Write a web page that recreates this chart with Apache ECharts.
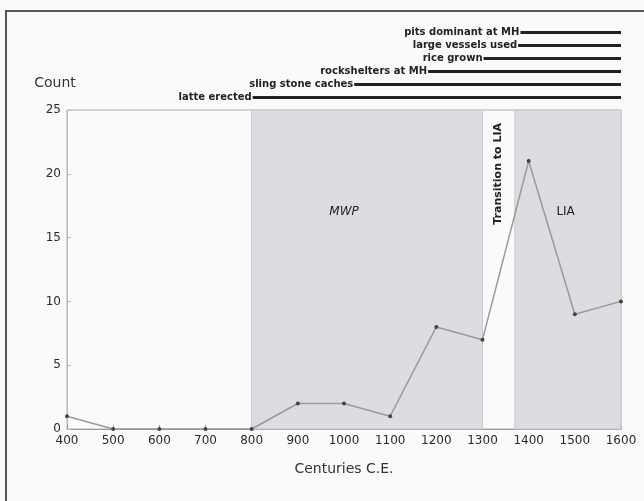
<!DOCTYPE html>
<html><head><meta charset="utf-8">
<script src="https://cdn.jsdelivr.net/npm/echarts@6/dist/echarts.min.js"></script>
<style>html,body{margin:0;padding:0;background:#fafafa}#c{width:644px;height:501px}</style>
</head><body><div id="c"></div>
<script>
const centuries = [400,500,600,700,800,900,1000,1100,1200,1300,1400,1500,1600];
const counts = [1,0,0,0,0,2,2,1,8,7,21,9,10];
const yTicks = [0,5,10,15,20,25];
const periods = [
  {name:'MWP', from:800, to:1300},
  {name:'LIA', from:1370, to:1600}
];
const periodLabels = [
  {text:'MWP', x:1000, y:17, rotate:0, italic:true},
  {text:'Transition to LIA', x:1333, y:20, rotate:90, italic:false},
  {text:'LIA', x:1480, y:17, rotate:0, italic:false}
];
const eventNames = ['pits dominant at MH','large vessels used','rice grown','rockshelters at MH','sling stone caches','latte erected'];
const eventStart = [1380,1375,1300,1180,1020,800];
const eventEnd = 1600;

const font = 'DejaVu Sans';
const chart = echarts.init(document.getElementById('c'));
chart.setOption({
  backgroundColor:'#fafafa',
  animation:false,
  graphic:[{type:'rect', shape:{x:6,y:11,width:700,height:600}, style:{fill:'none', stroke:'#555', lineWidth:2}, z:-1}],
  grid:[
    {left:67, right:23, top:110, bottom:72, show:true, borderColor:'#b0b0b0', borderWidth:1, backgroundColor:'transparent'},
    {left:67, right:23, top:26, height:78, show:false}
  ],
  xAxis:[
    {type:'value', gridIndex:0, min:400, max:1600, interval:100,
     name:'Centuries C.E.', nameLocation:'middle', nameGap:33,
     nameTextStyle:{fontFamily:font, fontSize:14, color:'#333'},
     axisLine:{lineStyle:{color:'#999'}},
     axisTick:{inside:true, length:4, lineStyle:{color:'#999'}},
     axisLabel:{fontFamily:font, fontSize:12, color:'#2a2a2a', margin:6, formatter:v=>String(v)},
     splitLine:{show:false}},
    {type:'value', gridIndex:1, min:400, max:1600, show:false}
  ],
  yAxis:[
    {type:'value', gridIndex:0, min:0, max:25, interval:5,
     name:'Count', nameLocation:'end', nameGap:27,
     nameTextStyle:{fontFamily:font, fontSize:14, color:'#333', align:'center', verticalAlign:'middle', padding:[0,24,0,0]},
     axisLine:{show:true, lineStyle:{color:'#bbb'}},
     axisTick:{inside:true, length:4, lineStyle:{color:'#bbb'}},
     axisLabel:{fontFamily:font, fontSize:12, color:'#2a2a2a', margin:6, customValues:yTicks},
     splitLine:{show:false}},
    {type:'category', gridIndex:1, data:eventNames, inverse:true, show:false}
  ],
  series:[
    {type:'line', xAxisIndex:0, yAxisIndex:0,
     data:centuries.map((c,i)=>[c,counts[i]]),
     lineStyle:{color:'#9a9a9a', width:1.5},
     symbol:'circle', symbolSize:4, itemStyle:{color:'#444'},
     markArea:{silent:true, itemStyle:{color:'#dcdce1', borderColor:'#c9c9ce', borderWidth:1},
       data:periods.map(p=>[{xAxis:p.from},{xAxis:p.to}])},
     markPoint:{silent:true, symbol:'circle', symbolSize:1, itemStyle:{color:'transparent'},
       data:periodLabels.map(l=>({coord:[l.x,l.y], label:{show:true, position:'inside', formatter:l.text,
         rotate:l.rotate, fontFamily:font, fontSize:l.rotate?11:12, fontStyle:l.italic?'italic':'normal',
         fontWeight:l.rotate?'bold':'normal', color:'#222'}}))}
    },
    {type:'custom', xAxisIndex:1, yAxisIndex:1,
     data:eventNames.map((n,i)=>[eventStart[i], i, eventEnd]),
     renderItem:function(params, api){
       const s = api.coord([api.value(0), api.value(1)]);
       const e = api.coord([api.value(2), api.value(1)]);
       return {type:'group', children:[
         {type:'line', shape:{x1:s[0]+1, y1:s[1], x2:e[0], y2:e[1]}, style:{stroke:'#222', lineWidth:3}},
         {type:'text', x:s[0], y:s[1], style:{text:eventNames[params.dataIndex], align:'right', verticalAlign:'middle',
           font:'bold 10px "DejaVu Sans"', fill:'#222'}}
       ]};
     }}
  ]
});
</script></body></html>
